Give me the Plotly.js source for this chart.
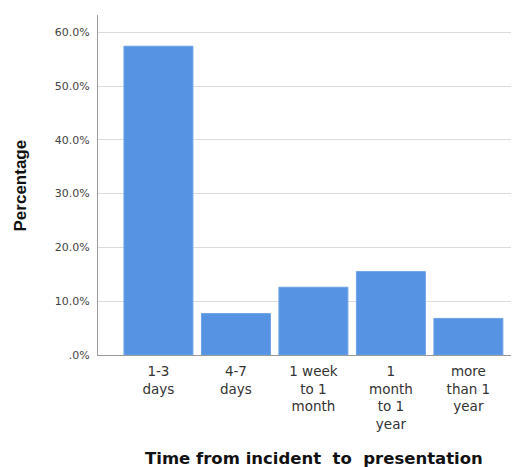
<!DOCTYPE html>
<html><head><meta charset="utf-8">
<script src="https://cdn.plot.ly/plotly-3.0.1.min.js"></script>
<style>html,body{margin:0;padding:0;background:#fff}#chart{width:514px;height:467px}</style>
</head><body><div id="chart"></div>
<script>
const categories = ["1-3<br>days", "4-7<br>days", "1 week<br>to 1<br>month", "1<br>month<br>to 1<br>year", "more<br>than 1<br>year"];
const percentages = [57.4, 7.7, 12.6, 15.5, 6.8];
const yTickVals = [0, 10, 20, 30, 40, 50, 60];
const yTickText = [".0%", "10.0%", "20.0%", "30.0%", "40.0%", "50.0%", "60.0%"];
const xTitle = "Time from incident  to  presentation";
const yTitle = "Percentage";

const trace = {
  type: "bar",
  x: categories,
  y: percentages,
  width: 0.89,
  marker: {color: "#5693e3", line: {color: "#6ea2e8", width: 1}},
  hoverinfo: "x+y"
};

const layout = {
  width: 514, height: 467,
  margin: {l: 98, r: 3, t: 15, b: 112},
  paper_bgcolor: "#ffffff", plot_bgcolor: "#ffffff",
  showlegend: false,
  font: {family: "DejaVu Sans, sans-serif", color: "#333333"},
  xaxis: {
    type: "category",
    range: [-0.78, 4.55],
    showgrid: false, zeroline: false,
    showline: true, linecolor: "#9a9a9a", linewidth: 1,
    ticks: "", ticklen: 0,
    ticklabelstandoff: 4,
    tickfont: {family: "DejaVu Sans, sans-serif", size: 13.5, color: "#333333"},
    automargin: false
  },
  yaxis: {
    range: [0, 63.2],
    tickvals: yTickVals, ticktext: yTickText,
    showgrid: true, gridcolor: "#dcdcdc", gridwidth: 1,
    zeroline: false,
    showline: true, linecolor: "#9a9a9a", linewidth: 1,
    ticks: "", ticklen: 0,
    ticklabelstandoff: 5,
    tickfont: {family: "DejaVu Sans, sans-serif", size: 11, color: "#444444"},
    automargin: false
  },
  annotations: [
    {text: "<b>" + xTitle + "</b>", xref: "paper", yref: "paper", x: 0.524, y: -0.303,
     xanchor: "center", yanchor: "middle", showarrow: false,
     font: {family: "DejaVu Sans, sans-serif", size: 16.5, color: "#111111"}},
    {text: "<b>" + yTitle + "</b>", xref: "paper", yref: "paper", x: -0.1877, y: 0.5,
     xanchor: "center", yanchor: "middle", textangle: -90, showarrow: false,
     font: {family: "Liberation Sans, Arial, sans-serif", size: 17, color: "#111111"}}
  ]
};

Plotly.newPlot("chart", [trace], layout, {displayModeBar: false, staticPlot: true});
</script></body></html>
